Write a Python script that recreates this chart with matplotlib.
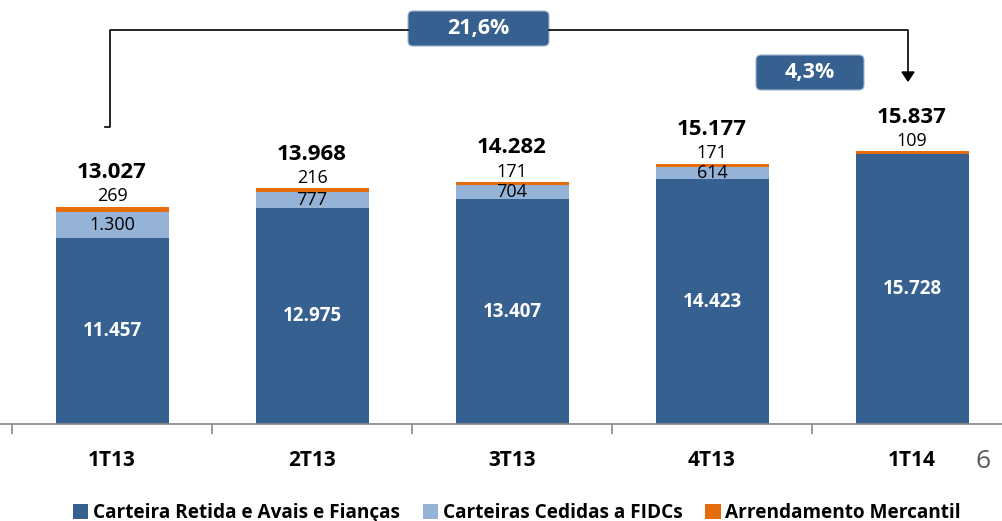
import numpy as np
import matplotlib
matplotlib.use('Agg')
from matplotlib import pyplot as plt
from matplotlib import patches
from matplotlib.transforms import Affine2D

# dados (R$ milhoes)
periodos = ['1T13', '2T13', '3T13', '4T13', '1T14']
retida = [11457, 12975, 13407, 14423, 15728]
cedidas = [1300, 777, 704, 614, 0]
arrendamento = [269, 216, 171, 171, 109]
totais = [13027, 13968, 14282, 15177, 15837]
series_nomes = ['Carteira Retida e Avais e Fianças',
                'Carteiras Cedidas a FIDCs',
                'Arrendamento Mercantil']
cresc_ano = '21,6%'
cresc_tri = '4,3%'

c_dark = '#36608F'
c_light = '#95B3D7'
c_orange = '#E46C0A'

plt.rcParams['font.family'] = ['Open Sans', 'DejaVu Sans']

W, H = 1002, 521
fig = plt.figure(figsize=(W/100, H/100), dpi=100)
ybase = 424
ax = fig.add_axes([0, 1 - ybase/H, 1, ybase/H])
ymin = 2000
ymax = ymin + ybase/0.0197

def fmt(v):
    return f'{v:,}'.replace(',', '.')

x = np.arange(len(periodos))
bw = 0.565
retida = np.array(retida)
cedidas = np.array(cedidas)
arrendamento = np.array(arrendamento)
b1 = ax.bar(x, retida, bw, bottom=0, color=c_dark, label=series_nomes[0], zorder=2)
b2 = ax.bar(x, cedidas, bw, bottom=retida, color=c_light, label=series_nomes[1], zorder=2)
b3 = ax.bar(x, arrendamento, bw, bottom=retida + cedidas, color=c_orange,
            label=series_nomes[2], zorder=2)

for i in range(len(periodos)):
    ax.text(x[i], (ymin + retida[i]) / 2, fmt(retida[i]), ha='center', va='center',
            color='white', fontsize=13.5, fontweight='bold')
    if cedidas[i] > 0:
        ax.text(x[i], retida[i] + cedidas[i] / 2, fmt(cedidas[i]), ha='center',
                va='center', color='black', fontsize=13)
    top = retida[i] + cedidas[i] + arrendamento[i]
    ax.annotate(fmt(arrendamento[i]), (x[i], top), xytext=(0, 1),
                textcoords='offset points', ha='center', va='bottom', fontsize=13)
    ax.annotate(fmt(totais[i]), (x[i], top), xytext=(0, 17),
                textcoords='offset points', ha='center', va='bottom', fontsize=16,
                fontweight='bold')

for s in ['left', 'right', 'top']:
    ax.spines[s].set_visible(False)
ax.spines['bottom'].set_color('#888888')
ax.spines['bottom'].set_linewidth(1.2)
ax.set_yticks([])
ax.set_xticks(np.arange(-0.5, len(periodos), 1))
ax.set_xticklabels([])
ax.tick_params(axis='x', length=7, color='#888888', width=1.2, direction='out')
ax.set_ylim(ymin, ymax)
ax.set_xlim(-0.56, -0.56 + W/200)
for i, p in enumerate(periodos):
    ax.text(x[i], -0.085, p, transform=ax.get_xaxis_transform(), ha='center',
            va='center', fontsize=15, fontweight='bold')

# coordenadas em pixels (y para baixo)
pix = Affine2D().scale(1, -1).translate(0, H).scale(0.01) + fig.dpi_scale_trans

lk = dict(color='black', lw=1.2, transform=pix, clip_on=False)
fig.add_artist(plt.Line2D([105, 110, 110, 408], [127, 127, 30, 30], **lk))
fig.add_artist(plt.Line2D([549, 908, 908], [30, 30, 74], **lk))
fig.add_artist(patches.Polygon([[902, 72], [914, 72], [908, 81]], closed=True,
                               color='black', transform=pix))

def caixa(x0, y0, w, h, txt):
    fig.add_artist(patches.FancyBboxPatch((x0, y0), w, h,
                   boxstyle='round,pad=0,rounding_size=5', fc=c_dark,
                   ec='#9FB6D1', lw=0.8, transform=pix))
    fig.text(x0 + w/2, y0 + h/2, txt, transform=pix, ha='center', va='center',
             color='white', fontsize=15.5, fontweight='bold')

caixa(408, 11, 141, 35, cresc_ano)
caixa(756, 55, 108, 35, cresc_tri)

fig.text(983, 462, '6', transform=pix, ha='center', va='center', fontsize=19,
         color='#595959')

fig.legend(handles=[b1, b2, b3], labels=series_nomes, loc='center',
           bbox_to_anchor=(517/W, 1 - 513/H), ncol=3, frameon=False,
           handlelength=0.8, handleheight=0.8, handletextpad=0.25,
           columnspacing=1.2, prop=dict(size=13.7, weight='bold'))

fig.savefig('out.png', dpi=100)
